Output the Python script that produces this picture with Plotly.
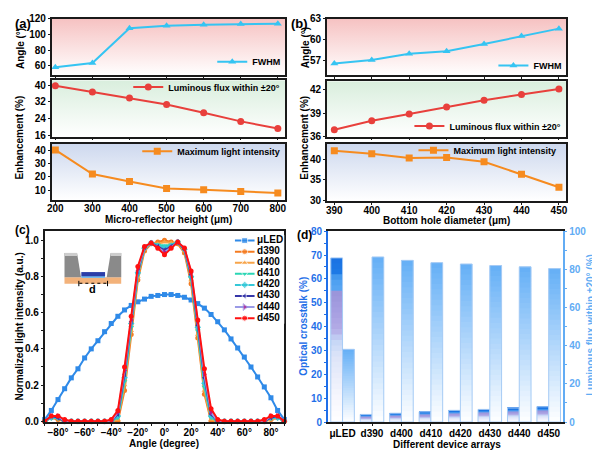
import plotly.graph_objects as go

W, H = 600, 459
OFF = 8  # the page body adds an 8px margin, so everything is laid out 8px up/left
FONT = 'Liberation Sans, Arial, sans-serif'

# (a) sweep of micro-reflector height
height_um = [200, 300, 400, 500, 600, 700, 800]
fwhm_a = [58.3, 63.7, 108.0, 111.3, 112.6, 113.4, 113.8]
flux_a = [39.7, 36.7, 33.8, 30.7, 26.8, 22.7, 19.3]
peak_a = [40.2, 22.2, 16.7, 11.4, 10.4, 9.2, 8.0]

# (b) sweep of bottom hole diameter
diam_um = [390, 400, 410, 420, 430, 440, 450]
fwhm_b = [56.6, 57.1, 58.0, 58.35, 59.4, 60.55, 61.6]
flux_b = [36.9, 38.05, 38.9, 39.8, 40.65, 41.4, 42.1]
peak_b = [42.2, 41.5, 40.4, 40.55, 39.5, 36.4, 33.2]

# (c) angular distributions
angles = [-90, -85, -80, -75, -70, -65, -60, -55, -50, -45, -40, -35, -30, -25, -20, -15, -10, -5, 0,
          5, 10, 15, 20, 25, 30, 35, 40, 45, 50, 55, 60, 65, 70, 75, 80, 85, 90]
mu_led = [0.01, 0.06, 0.12, 0.18, 0.24, 0.29, 0.35, 0.40, 0.445, 0.495, 0.54, 0.58, 0.615, 0.64, 0.66,
          0.675, 0.69, 0.695, 0.70, 0.70, 0.695, 0.685, 0.67, 0.65, 0.625, 0.59, 0.55, 0.505, 0.455,
          0.405, 0.355, 0.30, 0.245, 0.19, 0.13, 0.06, 0.01]
d390 = [0.0, 0.02, 0.01, 0.0, 0.0, 0.0, 0.0, 0.0, 0.0, 0.0, 0.0,
        0.0, 0.17, 0.48, 0.78, 0.94, 0.98, 0.99, 1.0, 0.99, 0.98, 0.93, 0.76, 0.46, 0.15, 0.0,
        0.0, 0.0, 0.0, 0.0, 0.0, 0.0, 0.0, 0.0, 0.01, 0.02, 0.0]
d400 = [0.0, 0.02, 0.02, 0.0, 0.0, 0.0, 0.0, 0.0, 0.0, 0.0, 0.0,
        0.01, 0.20, 0.50, 0.80, 0.95, 0.985, 0.98, 0.99, 0.985, 0.99, 0.94, 0.78, 0.48, 0.17, 0.01,
        0.0, 0.0, 0.0, 0.0, 0.0, 0.0, 0.0, 0.0, 0.01, 0.02, 0.0]
d410 = [0.0, 0.02, 0.02, 0.0, 0.0, 0.0, 0.0, 0.0, 0.0, 0.0, 0.0,
        0.02, 0.22, 0.52, 0.81, 0.955, 0.985, 0.975, 0.97, 0.975, 0.99, 0.945, 0.79, 0.50, 0.19, 0.02,
        0.0, 0.0, 0.0, 0.0, 0.0, 0.0, 0.0, 0.0, 0.02, 0.02, 0.0]
d420 = [0.0, 0.02, 0.02, 0.0, 0.0, 0.0, 0.0, 0.0, 0.0, 0.0, 0.0,
        0.03, 0.24, 0.54, 0.82, 0.955, 0.985, 0.97, 0.96, 0.97, 0.99, 0.95, 0.80, 0.52, 0.21, 0.03,
        0.0, 0.0, 0.0, 0.0, 0.0, 0.0, 0.0, 0.0, 0.02, 0.02, 0.0]
d430 = [0.0, 0.03, 0.02, 0.0, 0.0, 0.0, 0.0, 0.0, 0.0, 0.0, 0.0,
        0.04, 0.26, 0.55, 0.83, 0.96, 0.985, 0.965, 0.945, 0.965, 0.99, 0.95, 0.81, 0.53, 0.24, 0.04,
        0.0, 0.0, 0.0, 0.0, 0.0, 0.0, 0.0, 0.0, 0.02, 0.03, 0.0]
d440 = [0.0, 0.03, 0.03, 0.0, 0.0, 0.0, 0.0, 0.0, 0.0, 0.0, 0.0,
        0.05, 0.28, 0.56, 0.84, 0.96, 0.985, 0.96, 0.935, 0.96, 0.99, 0.955, 0.82, 0.55, 0.26, 0.05,
        0.0, 0.0, 0.0, 0.0, 0.0, 0.0, 0.0, 0.0, 0.03, 0.03, 0.0]
d450 = [0.0, 0.03, 0.03, 0.01, 0.0, 0.0, 0.0, 0.0, 0.0, 0.0, 0.01,
        0.06, 0.30, 0.58, 0.855, 0.965, 0.985, 0.955, 0.92, 0.955, 0.99, 0.957, 0.83, 0.56, 0.29, 0.07,
        0.01, 0.0, 0.0, 0.0, 0.0, 0.0, 0.0, 0.01, 0.03, 0.03, 0.0]
series_names = ['μLED', 'd390', 'd400', 'd410', 'd420', 'd430', 'd440', 'd450']
series_values = [mu_led, d390, d400, d410, d420, d430, d440, d450]

# (d) arrays comparison
devices = ['μLED', 'd390', 'd400', 'd410', 'd420', 'd430', 'd440', 'd450']
crosstalk = [68.8, 3.2, 3.7, 4.3, 4.9, 5.3, 5.9, 6.4]
flux_in_20 = [38.1, 86.5, 84.7, 83.5, 82.8, 82.0, 81.3, 80.4]

# styles
CYAN, RED, ORANGE = '#35c4f2', '#e8403c', '#f68b1f'
line_cols = ['#2f8ae8', '#f47b20', '#f7a449', '#2ad6b4', '#35c8d8', '#3636a8', '#9a9ae6', '#ff1010']
mark_cols = ['#2f8ae8', '#f47b20', '#f7a449', '#2ad6b4', '#35c8d8', '#3636a8', '#b0178f', '#ff1010']
symbols = ['square', 'circle', 'triangle-up', 'triangle-down', 'diamond', 'triangle-left',
           'triangle-right', 'circle']
BLUE_L, BLUE_R = '#1f6fe8', '#62acf4'
TICK = dict(size=10, weight='bold')


def X(p):
    return (p - OFF) / W


def Y(p):
    return 1 - (p - OFF) / H


def box(**kw):
    d = dict(showline=True, mirror=True, linecolor='#1a1a1a', linewidth=1.5,
             ticks='outside', ticklen=2, tickwidth=1.2, tickcolor='#1a1a1a',
             showgrid=False, zeroline=False, tickfont=TICK)
    d.update(kw)
    return d


def backdrop(xr, yr, color, xa, ya):
    return go.Scatter(x=[xr[0], xr[1], xr[1], xr[0], xr[0]], y=[yr[0], yr[0], yr[1], yr[1], yr[0]],
                      fill='toself', mode='lines', line=dict(width=0),
                      fillgradient=dict(type='vertical', colorscale=[[0, '#ffffff'], [1, color]]),
                      xaxis=xa, yaxis=ya, hoverinfo='skip', showlegend=False)


def mix(scale, t):
    for (t0, c0), (t1, c1) in zip(scale, scale[1:]):
        if t <= t1:
            f = (t - t0) / (t1 - t0)
            a = [int(c0[i:i + 2], 16) for i in (1, 3, 5)]
            b = [int(c1[i:i + 2], 16) for i in (1, 3, 5)]
            return 'rgb(%d,%d,%d)' % tuple(round(p + (q - p) * f) for p, q in zip(a, b))
    return scale[-1][1]


xr_a, xr_b = [190, 820], [388, 452]
yr_a = [[48, 120], [15.4, 42.3], [2.8, 45]]
yr_b = [[54.9, 63], [36, 43.1], [29.8, 44]]
bg_cols = ['#f6c2c2', '#d9eedd', '#cdd8ee']

fig = go.Figure()

# panels (a) and (b)
for k in range(3):
    fig.add_trace(backdrop(xr_a, yr_a[k], bg_cols[k], 'x%d' % (k + 1) if k else 'x', 'y%d' % (k + 1) if k else 'y'))
    fig.add_trace(backdrop(xr_b, yr_b[k], bg_cols[k], 'x%d' % (k + 4), 'y%d' % (k + 4)))

specs = [('FWHM', CYAN, 'triangle-up'), ('Luminous flux within ±20°', RED, 'circle'),
         ('Maximum light intensity', ORANGE, 'square')]
for k, (ya, yb) in enumerate(zip([fwhm_a, flux_a, peak_a], [fwhm_b, flux_b, peak_b])):
    name, col, sym = specs[k]
    fig.add_trace(go.Scatter(x=height_um, y=ya, name=name, mode='lines+markers',
                             line=dict(color=col, width=2), marker=dict(symbol=sym, size=7),
                             xaxis='x%d' % (k + 1) if k else 'x', yaxis='y%d' % (k + 1) if k else 'y',
                             legend='legend%d' % (k + 1) if k else 'legend'))
    fig.add_trace(go.Scatter(x=diam_um, y=yb, name=name, mode='lines+markers',
                             line=dict(color=col, width=2), marker=dict(symbol=sym, size=7),
                             xaxis='x%d' % (k + 4), yaxis='y%d' % (k + 4),
                             legend='legend%d' % (k + 4)))

# panel (c)
for i, vals in enumerate(series_values):
    fig.add_trace(go.Scatter(x=angles, y=vals, name=series_names[i], mode='lines+markers',
                             line=dict(color=line_cols[i], width=2),
                             marker=dict(symbol=symbols[i], size=5, color=mark_cols[i]),
                             xaxis='x7', yaxis='y7', showlegend=False, cliponaxis=False))
# compact legend for (c)
for i in range(len(series_names)):
    fig.add_trace(go.Scatter(x=[0, 0.2, 0.4], y=[i, i, i], mode='lines+markers',
                             line=dict(color=line_cols[i], width=2),
                             marker=dict(symbol=symbols[i], size=[0, 6, 0], color=mark_cols[i]),
                             xaxis='x9', yaxis='y10', showlegend=False, hoverinfo='skip'))
fig.add_trace(go.Scatter(x=[0.45] * len(series_names), y=list(range(len(series_names))),
                         text=series_names, mode='text', textposition='middle right',
                         textfont=dict(size=10, weight='bold', color='black'),
                         xaxis='x9', yaxis='y10', showlegend=False, hoverinfo='skip', cliponaxis=False))

# panel (d): gradient bars made of overlapping stacked slices
N = 30
ct_scale = [[0, '#ffffff'], [0.15, '#f6f6fd'], [0.4, '#dde4f8'], [0.5, '#c4d6f6'], [0.56, '#b4ace6'],
            [0.66, '#a8a0e2'], [0.79, '#9a94da'], [0.81, '#58a6f2'], [0.88, '#4a9ef0'], [0.9, '#1e7ae6'],
            [1, '#1a72e2']]
lf_scale = [[0, '#ffffff'], [0.5, '#b2d7fb'], [1, '#64aff6']]
for vals, scale, grp, ya in [(crosstalk, ct_scale, 'ct', 'y8'), (flux_in_20, lf_scale, 'lf', 'y9')]:
    for j in range(N):
        base = [v * j / N for v in vals]
        fig.add_trace(go.Bar(x=devices, y=[min(2 * v / N, v - b) for v, b in zip(vals, base)], base=base,
                             marker=dict(color=mix(scale, (j + 0.5) / N), line=dict(width=0)),
                             offsetgroup=grp, alignmentgroup='d', xaxis='x8', yaxis=ya,
                             showlegend=False, hoverinfo='skip'))
    fig.add_trace(go.Bar(x=devices, y=vals, marker=dict(color='rgba(0,0,0,0)',
                                                        line=dict(color='#a6cbf5', width=1)),
                         offsetgroup=grp, alignmentgroup='d', xaxis='x8', yaxis=ya,
                         showlegend=False, hoverinfo='skip'))


def leg(x, y):
    return dict(x=X(x), y=Y(y), xanchor='right', yanchor='middle', bgcolor='rgba(0,0,0,0)',
                font=dict(size=9, weight='bold'), itemwidth=30, borderwidth=0)


xa_dom, xb_dom = [X(47), X(283)], [X(325), X(567)]
ya_dom = [[Y(71), Y(13)], [Y(134), Y(76)], [Y(199), Y(141)]]
yb_dom = [[Y(71), Y(13)], [Y(134), Y(77)], [Y(200), Y(141)]]
c_dom_y = [Y(427), Y(231)]

layout = dict(
    width=W, height=H, margin=dict(l=0, r=0, t=0, b=0),
    paper_bgcolor='white', plot_bgcolor='white', hovermode=False,
    font=dict(family=FONT, size=10, color='black', weight='bold'),
    barmode='group', bargap=0.2, bargroupgap=0,
    legend=leg(283, 57), legend2=leg(283, 83), legend3=leg(283, 149),
    legend4=leg(567, 61), legend5=leg(567, 123), legend6=leg(562, 148),
    xaxis=box(domain=xa_dom, range=xr_a, anchor='y', dtick=100, showticklabels=False),
    yaxis=box(domain=ya_dom[0], range=yr_a[0], anchor='x', tick0=0, dtick=20),
    xaxis2=box(domain=xa_dom, range=xr_a, anchor='y2', dtick=100, showticklabels=False),
    yaxis2=box(domain=ya_dom[1], range=yr_a[1], anchor='x2', tick0=0, dtick=8),
    xaxis3=box(domain=xa_dom, range=xr_a, anchor='y3', dtick=100, ticklabelstandoff=-4),
    yaxis3=box(domain=ya_dom[2], range=yr_a[2], anchor='x3', tick0=0, dtick=10),
    xaxis4=box(domain=xb_dom, range=xr_b, anchor='y4', dtick=10, showticklabels=False),
    yaxis4=box(domain=yb_dom[0], range=yr_b[0], anchor='x4', tick0=0, dtick=3),
    xaxis5=box(domain=xb_dom, range=xr_b, anchor='y5', dtick=10, showticklabels=False),
    yaxis5=box(domain=yb_dom[1], range=yr_b[1], anchor='x5', tick0=0, dtick=3),
    xaxis6=box(domain=xb_dom, range=xr_b, anchor='y6', dtick=10, ticklabelstandoff=-3),
    yaxis6=box(domain=yb_dom[2], range=yr_b[2], anchor='x6', tick0=0, dtick=5),
    xaxis7=box(domain=[X(40), X(282)], range=[-90, 90], anchor='y7', tick0=0, dtick=20,
               ticksuffix='°', ticklabelstandoff=-2,
               minor=dict(ticks='outside', ticklen=2, dtick=10, tickcolor='#1a1a1a')),
    yaxis7=box(domain=c_dom_y, range=[-0.004, 1.05], anchor='x7', tick0=0, dtick=0.2, tickformat='.1f',
               minor=dict(ticks='outside', ticklen=2, dtick=0.1, tickcolor='#1a1a1a')),
    xaxis8=box(domain=[X(326), X(564)], anchor='y8', type='category', linewidth=1.5,
               ticklabelstandoff=-1),
    yaxis8=box(domain=c_dom_y, range=[0, 80], anchor='x8', dtick=10, mirror=False,
               linecolor=BLUE_L, tickcolor=BLUE_L, tickfont=dict(size=10, weight='bold', color=BLUE_L),
               minor=dict(ticks='outside', ticklen=2, dtick=5, tickcolor=BLUE_L)),
    yaxis9=box(domain=c_dom_y, range=[0, 100], anchor='x8', overlaying='y8', side='right', dtick=20,
               mirror=False, linecolor=BLUE_R, tickcolor=BLUE_R,
               tickfont=dict(size=10, weight='bold', color=BLUE_R),
               minor=dict(ticks='outside', ticklen=2, dtick=10, tickcolor=BLUE_R)),
    xaxis9=dict(domain=[X(232), X(282)], range=[0, 1], anchor='y10', visible=False),
    yaxis10=dict(domain=[Y(326), Y(235)], range=[7.5, -0.5], anchor='x9', visible=False),
)


def note(text, x, y, size=10, angle=0, color='black', xanchor='center', yanchor='middle'):
    return dict(text=text, x=X(x), y=Y(y), xref='paper', yref='paper', showarrow=False,
                textangle=angle, xanchor=xanchor, yanchor=yanchor,
                font=dict(size=size, color=color, weight='bold', family=FONT))


layout['annotations'] = [
    note('(a)', 8, 8, 13, xanchor='left', yanchor='top'),
    note('(b)', 287, 8, 13, xanchor='left', yanchor='top'),
    note('(c)', 8, 221, 12, xanchor='left', yanchor='top'),
    note('(d)', 293, 226, 12, xanchor='left', yanchor='top'),
    note('Angle (°)', 15, 43, angle=-90),
    note('Enhancement (%)', 15, 135, angle=-90),
    note('Angle (°)', 303, 43, angle=-90),
    note('Enhancement (%)', 303, 135, angle=-90),
    note('Micro-reflector height (μm)', 165, 219),
    note('Bottom hole diameter (μm)', 446, 220),
    note('Normalized light intensity (a.u.)', 15, 329, angle=-90),
    note('Angle (degree)', 161, 449),
    note('Optical crosstalk (%)', 302, 329, angle=-90, color=BLUE_L),
    note('Luminous flux within ±20° (%)', 591, 327, angle=-90, color=BLUE_R),
    note('Different device arrays', 446, 450),
    note('d', 88.5, 290, 11),
]


def path(points):
    return 'M ' + ' L '.join('%.4f,%.4f' % (X(a), Y(b)) for a, b in points) + ' Z'


def rect(x0, y0, x1, y1, color):
    return dict(type='rect', xref='paper', yref='paper', x0=X(x0), x1=X(x1), y0=Y(y1), y1=Y(y0),
                fillcolor=color, line=dict(width=0))


# inset schematic of the reflector cup
layout['shapes'] = [
    rect(60, 278.3, 117.3, 285, '#f3b27a'),
    dict(type='path', xref='paper', yref='paper', fillcolor='#8a8a8a', line=dict(width=0),
         path=path([(60, 253.3), (72.7, 253.3), (76.7, 278.3), (60, 278.3)])),
    dict(type='path', xref='paper', yref='paper', fillcolor='#8a8a8a', line=dict(width=0),
         path=path([(106.7, 253.3), (117.3, 253.3), (117.3, 278.3), (102.7, 278.3)])),
    rect(60, 253.3, 72.7, 256.5, '#cdcdcd'),
    rect(106.7, 253.3, 117.3, 256.5, '#cdcdcd'),
    rect(77, 277, 101, 279, '#6fb8f0'),
    rect(77, 273, 101, 277.3, '#2b3ea8'),
    dict(type='line', xref='paper', yref='paper', x0=X(75), x1=X(103), y0=Y(284.5), y1=Y(284.5),
         line=dict(color='black', width=1, dash='dot')),
    dict(type='line', xref='paper', yref='paper', x0=X(74.5), x1=X(74.5), y0=Y(282), y1=Y(287.5),
         line=dict(color='black', width=1)),
    dict(type='line', xref='paper', yref='paper', x0=X(103.5), x1=X(103.5), y0=Y(282), y1=Y(287.5),
         line=dict(color='black', width=1)),
]

fig.update_layout(layout)
fig.write_html('out.html')
